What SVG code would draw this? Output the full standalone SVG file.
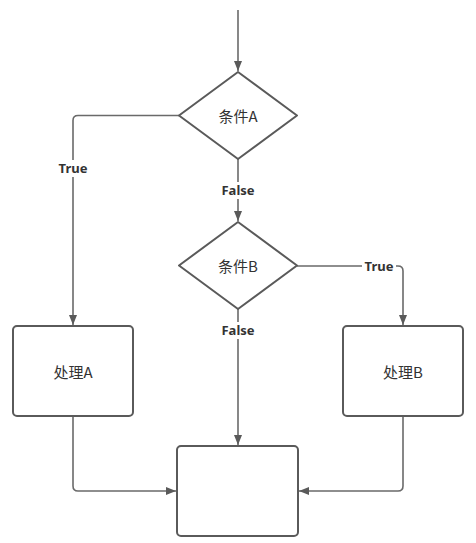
<svg xmlns="http://www.w3.org/2000/svg" width="476" height="543" viewBox="0 0 476 543">
<defs>
<marker id="ah" viewBox="0 0 10 8" refX="10" refY="4" markerWidth="10" markerHeight="8" markerUnits="userSpaceOnUse" orient="auto">
<path d="M0,0 L10,4 L0,8 Z" fill="#5a5a5a"/>
</marker>
</defs>
<style>
.shape{fill:#fff;stroke:#5a5a5a;stroke-width:2;stroke-linejoin:round}
.conn{fill:none;stroke:#6a6a6a;stroke-width:1.6;marker-end:url(#ah)}
.t{font-family:"Noto Sans CJK SC","Noto Sans",sans-serif;font-size:15px;fill:#333;text-anchor:middle;dominant-baseline:central}
.lbl{font-family:"Noto Sans","Liberation Sans",sans-serif;font-size:13px;font-weight:bold;fill:#333;text-anchor:middle;dominant-baseline:central}
.bg{fill:#fff}
</style>
<rect width="476" height="543" fill="#fff"/>
<g id="connectors">
<path class="conn" d="M238,10 V71"/>
<path class="conn" d="M179,115.5 H78 Q73,115.5 73,120.5 V325"/>
<path class="conn" d="M238,159 V221"/>
<path class="conn" d="M297,266 H398 Q403,266 403,271 V325"/>
<path class="conn" d="M238,309 V445"/>
<path class="conn" d="M73,416 V486 Q73,491 78,491 H176"/>
<path class="conn" d="M403,416 V486 Q403,491 398,491 H299"/>
<rect class="bg" x="56" y="160" width="34" height="17"/>
<text class="lbl" x="73" y="168">True</text>
<rect class="bg" x="219" y="182" width="38" height="17"/>
<text class="lbl" x="238" y="190">False</text>
<rect class="bg" x="362" y="258" width="34" height="17"/>
<text class="lbl" x="379" y="266">True</text>
<rect class="bg" x="219" y="322" width="38" height="17"/>
<text class="lbl" x="238" y="330">False</text>
</g>
<g id="condA">
<path class="shape" d="M238,72 L297,115.5 L238,159 L179,115.5 Z"/>
<text class="t" x="238" y="115.5">条件A</text>
</g>
<g id="condB">
<path class="shape" d="M238,222 L297,265.5 L238,309 L179,265.5 Z"/>
<text class="t" x="238" y="265.5">条件B</text>
</g>
<g id="procA">
<rect class="shape" x="13" y="326" width="120" height="90" rx="4"/>
<text class="t" x="73" y="371">处理A</text>
</g>
<g id="procB">
<rect class="shape" x="343" y="326" width="120" height="90" rx="4"/>
<text class="t" x="403" y="371">处理B</text>
</g>
<g id="end">
<rect class="shape" x="177" y="446" width="121" height="90" rx="4"/>
</g>
</svg>
